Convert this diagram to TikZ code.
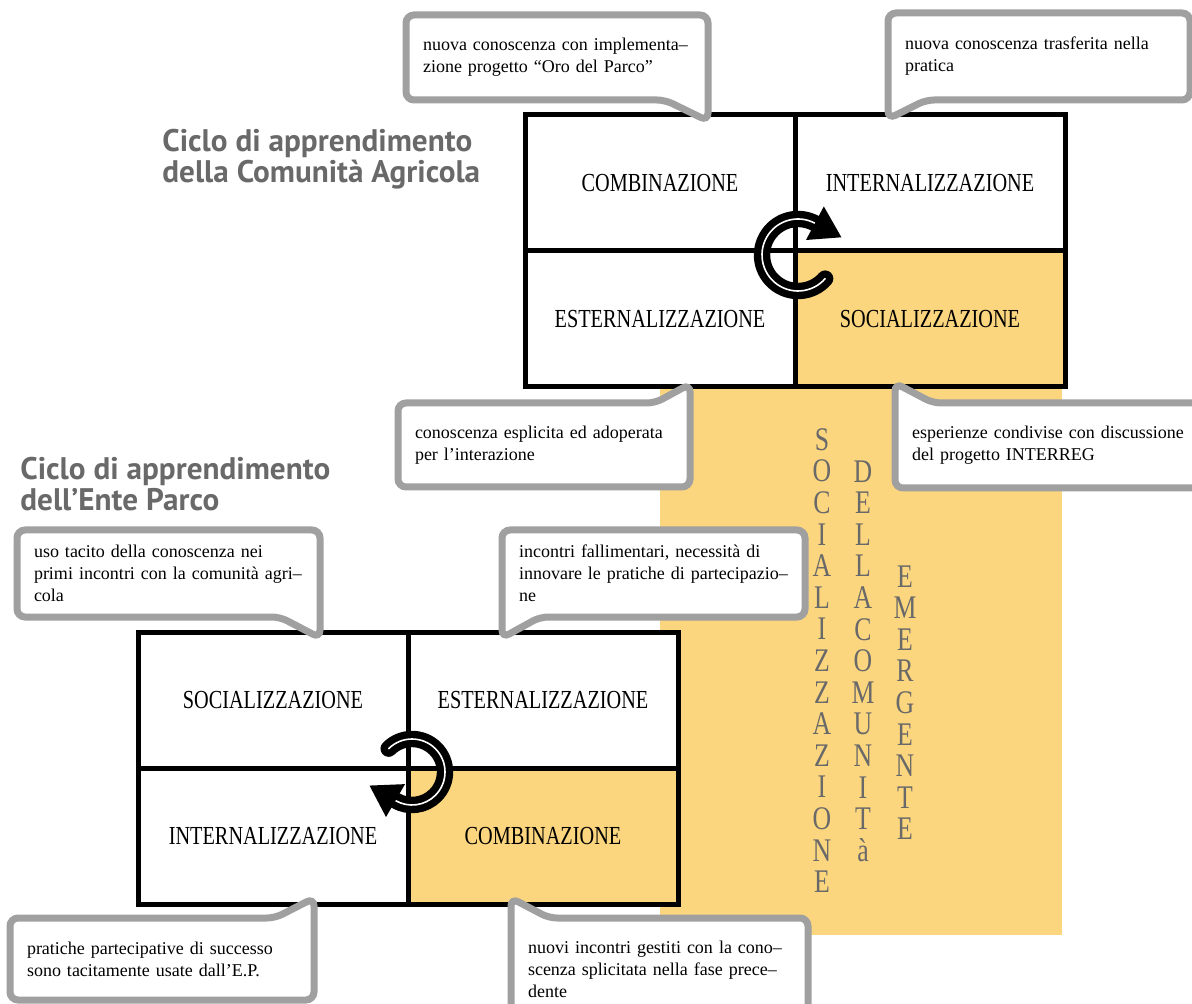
\documentclass[tikz,border=0pt]{standalone}
\usepackage{fontspec}
\setmainfont{Liberation Serif}
\newfontfamily\titlefont{PT Sans}
\newfontfamily\capsfont[FakeStretch=0.78]{Liberation Serif}
\usepackage{tikz}
\usetikzlibrary{arrows.meta, positioning, calc}
\definecolor{parcoyellow}{RGB}{251,214,126}
\definecolor{inkgray}{RGB}{105,105,105}
\definecolor{bubblegray}{RGB}{160,160,160}
\pgfdeclarelayer{base}
\pgfdeclarelayer{bubbles}
\pgfsetlayers{base,bubbles,main}

\begin{document}
\begin{tikzpicture}[
        x=0.5pt, y=-0.5pt,
        quad/.style={draw, line width=2.5pt, fill=white, outer sep=0pt, inner sep=0pt, minimum width=135pt, minimum height=68pt, font=\capsfont\fontsize{13}{15}\selectfont},
        quadhi/.style={quad, fill=parcoyellow},
        note/.style={outer sep=0pt, inner xsep=8.5pt, inner ysep=0pt, align=left, font=\fontsize{9}{11}\selectfont},
        bubble/.style={draw=bubblegray, line width=3.5pt, fill=white, rounded corners=4pt},
        title/.style={anchor=north west, inner sep=0pt, align=left, text=inkgray, font=\titlefont\bfseries\fontsize{15.6}{13.4}\selectfont},
        vword/.style={anchor=north, inner sep=0pt, align=center, text=inkgray, font=\capsfont\fontsize{16.5}{15.8}\selectfont},
        ring/.style={draw, line width=3.7pt, double=white, double distance=0.8pt, line cap=round}
    ]
    \useasboundingbox (0,0) rectangle (1192,1004);
    \begin{pgfonlayer}{base}
    \fill[parcoyellow] (660,300) rectangle (1062,935);
    \node[quad] (uComb) at (660,183) {COMBINAZIONE};
    \node[quad, right=0pt of uComb] (uInt) {INTERNALIZZAZIONE};
    \node[quad, below=0pt of uComb] (uEst) {ESTERNALIZZAZIONE};
    \node[quadhi, right=0pt of uEst] (uSoc) {SOCIALIZZAZIONE};
    \node[quad] (lSoc) at (273,700) {SOCIALIZZAZIONE};
    \node[quad, right=0pt of lSoc] (lEst) {ESTERNALIZZAZIONE};
    \node[quad, below=0pt of lSoc] (lInt) {INTERNALIZZAZIONE};
    \node[quadhi, right=0pt of lInt] (lComb) {COMBINAZIONE};
    \coordinate (uc) at ($(uComb.south east)+(3,4)$);
    \coordinate (lc) at ($(lSoc.south east)+(4,4)$);
    \draw[ring] ($(uc)+(41:36)$) arc[start angle=41, end angle=298, radius=36];
    \fill ($(uc)+(298:55)$) -- ($(uc)+(298:36)+(28:30)$) -- ($(uc)+(298:17)$) -- cycle;
    \draw[ring] ($(lc)+(225:33)$) arc[start angle=225, end angle=480, radius=33];
    \fill ($(lc)+(120:52)$) -- ($(lc)+(120:33)+(210:30)$) -- ($(lc)+(120:14)$) -- cycle;
    \end{pgfonlayer}

    \node[title] (tAgri) at (162,129) {Ciclo di apprendimento\\della Comunità Agricola};
    \node[title] (tEnte) at (20,457) {Ciclo di apprendimento\\dell’Ente Parco};

    \node[note, text width=134pt, minimum height=42.5pt] (bA) at (557,57.5) {nuova conoscenza con implementa–\\zione progetto “Oro del Parco”};
    \node[note, text width=134pt, minimum height=43.5pt] (bB) at (1039,56.5) {nuova conoscenza trasferita nella\\pratica};
    \node[note, text width=129pt, minimum height=42pt] (bC) at (544,445) {conoscenza esplicita ed adoperata\\per l’interazione};
    \node[note, text width=145pt, minimum height=42.5pt] (bD) at (1057,445.5) {esperienze condivise con discussione\\del progetto INTERREG};
    \node[note, text width=134.5pt, minimum height=43.5pt] (bE) at (168.5,573.5) {uso tacito della conoscenza nei\\primi incontri con la comunità agri–\\cola};
    \node[note, text width=134.5pt, minimum height=43.5pt] (bF) at (653.5,573.5) {incontri fallimentari, necessità di\\innovare le pratiche di partecipazio–\\ne};
    \node[note, text width=135pt, minimum height=41pt] (bG) at (162,959) {pratiche partecipative di successo\\sono tacitamente usate dall’E.P.};
    \node[note, text width=131.5pt, minimum height=51pt] (bH) at (659.5,969) {nuovi incontri gestiti con la cono–\\scenza splicitata nella fase prece–\\dente};

    \begin{pgfonlayer}{bubbles}
    \draw[bubble] (bA.north west) -- (bA.north east) -- ($(bA.south east)+(0,21)$) -- ($(bA.south east)+(-43,0)$) -- (bA.south west) -- cycle;
    \draw[bubble] (bB.north west) -- (bB.north east) -- (bB.south east) -- ($(bB.south west)+(38,0)$) -- ($(bB.south west)+(0,19)$) -- cycle;
    \draw[bubble] (bC.north west) -- ($(bC.north east)+(-35,0)$) -- ($(bC.north east)+(0,-19)$) -- (bC.south east) -- (bC.south west) -- cycle;
    \draw[bubble] ($(bD.north west)+(0,-20)$) -- ($(bD.north west)+(38,0)$) -- (bD.north east) -- (bD.south east) -- (bD.south west) -- cycle;
    \draw[bubble] (bE.north west) -- (bE.north east) -- ($(bE.south east)+(0,21)$) -- ($(bE.south east)+(-40,0)$) -- (bE.south west) -- cycle;
    \draw[bubble] (bF.north west) -- (bF.north east) -- (bF.south east) -- ($(bF.south west)+(38,0)$) -- ($(bF.south west)+(0,21)$) -- cycle;
    \draw[bubble] (bG.north west) -- ($(bG.north east)+(-39,0)$) -- ($(bG.north east)+(0,-20)$) -- (bG.south east) -- (bG.south west) -- cycle;
    \draw[bubble] ($(bH.north west)+(0,-20)$) -- ($(bH.north west)+(38,0)$) -- (bH.north east) -- (bH.south east) -- (bH.south west) -- cycle;
    \end{pgfonlayer}

    \node[vword] (vSoc) at (822,428) {S\\O\\C\\I\\A\\L\\I\\Z\\Z\\A\\Z\\I\\O\\N\\E};
    \node[vword] (vCom) at (863,460) {D\\E\\L\\L\\A\\C\\O\\M\\U\\N\\I\\T\\à};
    \node[vword] (vEme) at (905,565) {E\\M\\E\\R\\G\\E\\N\\T\\E};
\end{tikzpicture}
\end{document}
